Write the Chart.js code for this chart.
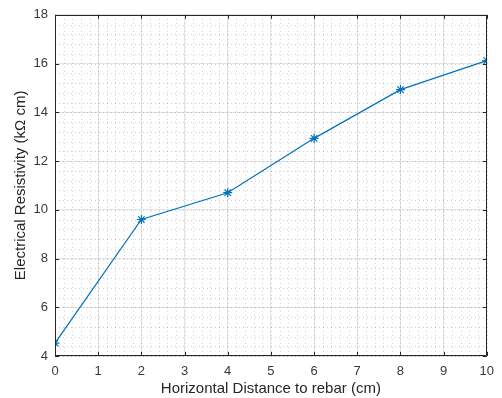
<!DOCTYPE html>
<html>
<head>
<meta charset="utf-8">
<script src="https://cdn.jsdelivr.net/npm/chart.js@4"></script>
<style>
  html, body { margin: 0; padding: 0; background: #fff; }
  canvas { display: block; }
</style>
</head>
<body>
<canvas id="myChart" width="502" height="398"></canvas>
<script>
'use strict'

const distances = [0, 2, 4, 6, 8, 10];
const resistivity = [4.53, 9.6, 10.7, 12.93, 14.93, 16.12];

const xTicks = [0, 1, 2, 3, 4, 5, 6, 7, 8, 9, 10];
const yTicks = [4, 6, 8, 10, 12, 14, 16, 18];
const xMinorStep = 0.2;
const yMinorStep = 0.4;

const axisColour = '#262626';
const lineColour = '#0072BD';

// minor dotted grid, box and inward tick marks like MATLAB
const matlabAxes = {
  id: 'matlabAxes',
  beforeDatasetsDraw(chart) {
    const {ctx, chartArea: a, scales: {x, y}} = chart;
    ctx.save();
    ctx.strokeStyle = 'rgba(38,38,38,0.22)';
    ctx.lineWidth = 1;
    ctx.setLineDash([1, 3]);
    ctx.beginPath();
    for (let v = x.min; v <= x.max + 1e-9; v += xMinorStep) {
      const px = Math.round(x.getPixelForValue(v)) + 0.5;
      ctx.moveTo(px, a.top);
      ctx.lineTo(px, a.bottom);
    }
    for (let v = y.min; v <= y.max + 1e-9; v += yMinorStep) {
      const py = Math.round(y.getPixelForValue(v)) + 0.5;
      ctx.moveTo(a.left, py);
      ctx.lineTo(a.right, py);
    }
    ctx.stroke();
    ctx.restore();
  },
  afterDatasetsDraw(chart) {
    const {ctx, chartArea: a, scales: {x, y}} = chart;
    ctx.save();
    ctx.strokeStyle = axisColour;
    ctx.lineWidth = 1;
    ctx.beginPath();
    ctx.rect(Math.round(a.left) + 0.5, Math.round(a.top) + 0.5,
      Math.round(a.right - a.left) - 1, Math.round(a.bottom - a.top) - 1);
    const len = 4;
    xTicks.forEach(t => {
      const px = Math.round(x.getPixelForValue(t)) + 0.5;
      ctx.moveTo(px, a.bottom);
      ctx.lineTo(px, a.bottom - len);
      ctx.moveTo(px, a.top);
      ctx.lineTo(px, a.top + len);
    });
    yTicks.forEach(t => {
      const py = Math.round(y.getPixelForValue(t)) + 0.5;
      ctx.moveTo(a.left, py);
      ctx.lineTo(a.left + len, py);
      ctx.moveTo(a.right, py);
      ctx.lineTo(a.right - len, py);
    });
    ctx.stroke();
    ctx.restore();
  }
};

const data = {
  datasets: [
    {
      label: 'Resistivity',
      data: distances.map((d, i) => ({x: d, y: resistivity[i]})),
      borderColor: lineColour,
      backgroundColor: lineColour,
      borderWidth: 1.2,
      pointStyle: 'star',
      pointRadius: 4.5,
      pointBorderWidth: 1.2,
      pointHoverRadius: 4.5,
      tension: 0,
    },
  ],
};

const tickFont = {family: '"Liberation Sans", Arial, sans-serif', size: 13};
const titleFont = {family: '"Liberation Sans", Arial, sans-serif', size: 15};

const config = {
  type: 'line',
  data: data,
  options: {
    responsive: false,
    animation: false,
    devicePixelRatio: 1,
    layout: {padding: {top: 13, right: 11, left: 0, bottom: 0}},
    plugins: {
      legend: {display: false},
      tooltip: {enabled: false},
    },
    scales: {
      x: {
        type: 'linear',
        min: 0,
        max: 10,
        afterBuildTicks: s => { s.ticks = xTicks.map(v => ({value: v})); },
        afterFit: s => { s.height = 42; },
        ticks: {color: '#383838', font: tickFont, padding: 8, maxRotation: 0},
        grid: {color: '#e3e3e3', drawTicks: false},
        border: {display: false},
        title: {
          display: true,
          text: 'Horizontal Distance to rebar (cm)',
          color: '#262626',
          font: titleFont,
          padding: {top: 0, bottom: 0},
        },
      },
      y: {
        type: 'linear',
        min: 4,
        max: 18,
        afterBuildTicks: s => { s.ticks = yTicks.map(v => ({value: v})); },
        afterFit: s => { s.width = 55; },
        ticks: {color: '#383838', font: tickFont, padding: 7},
        grid: {color: '#e3e3e3', drawTicks: false},
        border: {display: false},
        title: {
          display: true,
          text: 'Electrical Resistivity (kΩ cm)',
          color: '#262626',
          font: titleFont,
          padding: {top: 12, bottom: 0},
        },
      },
    },
  },
  plugins: [matlabAxes],
};

const myChart = new Chart(document.getElementById('myChart'), config);
</script>
</body>
</html>
